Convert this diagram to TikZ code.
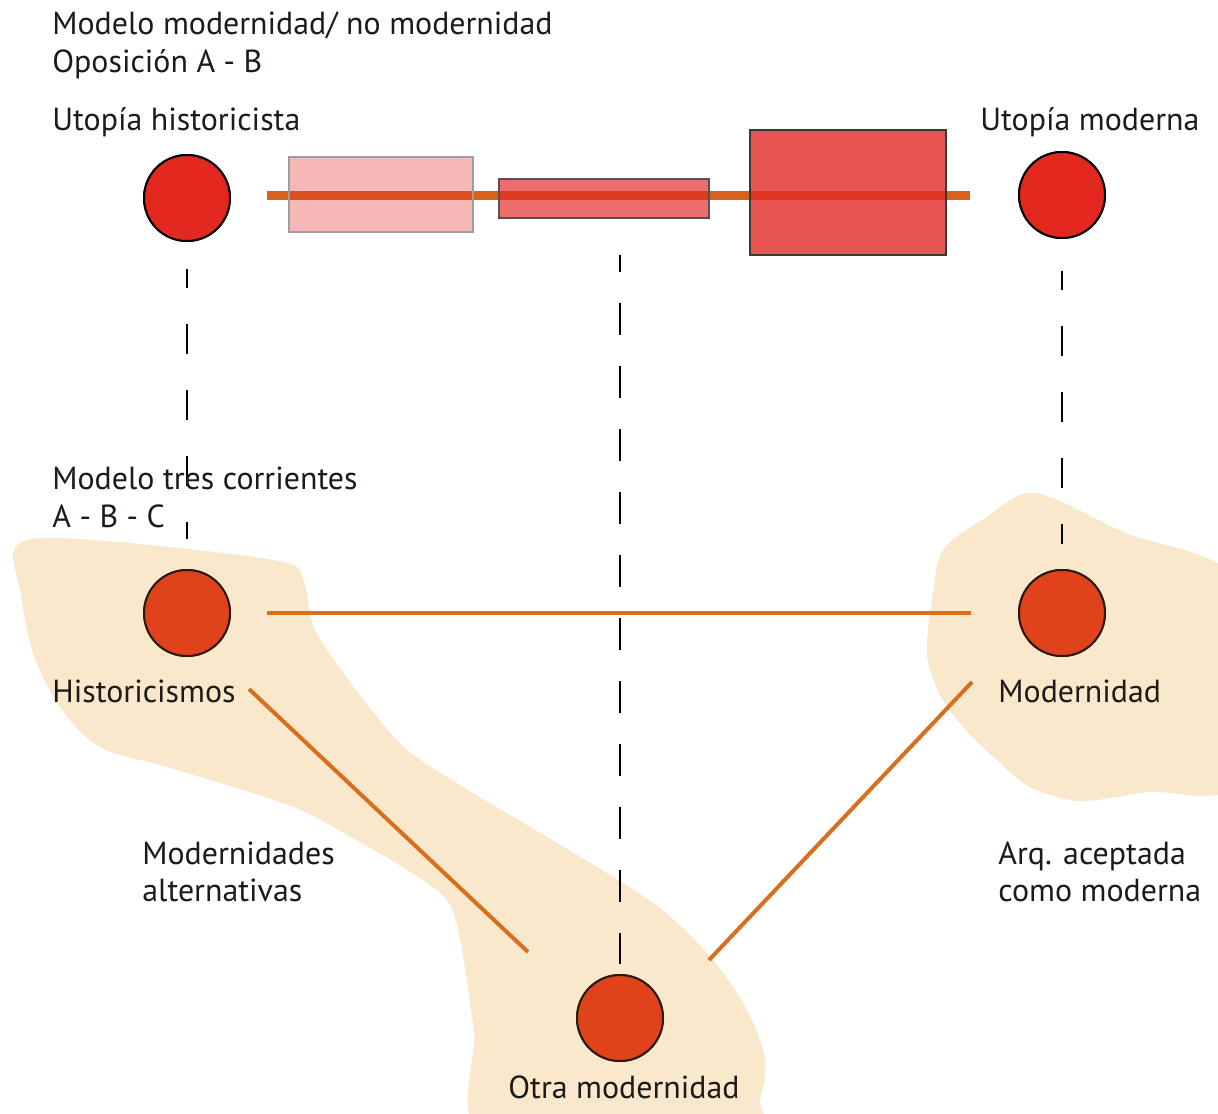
\documentclass[tikz,border=0pt]{standalone}
\usepackage{fontspec}
\setmainfont{PT Sans}
\definecolor{blobc}{HTML}{F9E8CB}
\definecolor{topred}{HTML}{E3281F}
\definecolor{botred}{HTML}{E0421B}
\definecolor{dotborder}{HTML}{2B1A12}
\definecolor{axisorange}{HTML}{D8611B}
\definecolor{connorange}{HTML}{D86F1E}
\definecolor{boxred}{HTML}{E22824}
\definecolor{txt}{HTML}{1E1A16}
\begin{document}
\begin{tikzpicture}[x=0.5pt,y=-0.5pt,
  blob/.style={fill=blobc},
  topdot/.style={circle, minimum size=43pt, inner sep=0pt, fill=topred, draw=black, line width=1pt},
  botdot/.style={circle, minimum size=43pt, inner sep=0pt, fill=botred, draw=dotborder, line width=1pt},
  conn/.style={draw=connorange, line width=2pt},
  axisline/.style={draw=axisorange, line width=4.5pt},
  vdash/.style={draw=black, line width=1.3pt, dash pattern=on 16pt off 15.5pt},
  sidedash/.style={draw=black, line width=1.3pt, dash pattern=on 15pt off 18pt},
  lbl/.style={anchor=base west, inner sep=0pt, text=txt, font=\fontsize{15.95pt}{19pt}\selectfont},
  boxa/.style={fill=boxred, fill opacity=0.33, draw=black!38, line width=1pt},
  boxb/.style={fill=boxred, fill opacity=0.67, draw=black!68, line width=1pt},
  boxc/.style={fill=boxred, fill opacity=0.79, draw=black!78, line width=1pt}]
\useasboundingbox (0,0) rectangle (1218,1113);
\clip (0,0) rectangle (1218,1113);
\fill[white] (0,0) rectangle (1218,1113);

% blobs
\fill[blob] plot[smooth cycle, tension=0.55] coordinates {
  (14,550) (45,538) (150,545) (283,562) (304,582) (313,625) (336,663)
  (370,708) (405,748) (455,782) (547,837) (613,877) (665,912) (713,960)
  (747,1010) (765,1060) (760,1100) (745,1140) (490,1140) (474,1030)
  (462,950) (450,905) (420,878) (335,828) (283,803) (167,767) (100,747)
  (60,707) (33,653) (20,590)};
\fill[blob] plot[smooth cycle, tension=0.5] coordinates {
  (1035,493) (1125,533) (1240,585) (1240,780) (1147,792)
  (1080,801) (1030,787) (997,760) (963,727) (940,695) (927,655)
  (932,600) (943,550) (985,518)};

% nodes
\node[topdot] (uh) at (187,198) {};
\node[topdot] (um) at (1062,195) {};
\node[botdot] (hi) at (187,613) {};
\node[botdot] (mo) at (1062,613) {};
\node[botdot] (om) at (620,1018) {};

% top axis
\draw[axisline, shorten <=18pt, shorten >=24pt] (uh.east |- um.center) -- (um.west);

% boxes
\draw[boxa] (289,157) rectangle (473,232);
\draw[boxb] (499,179) rectangle (709,218);
\draw[boxc] (750,130) rectangle (946,255);

% dashed verticals
\coordinate (midtop) at (620,255);
\draw[sidedash, dash phase=5.5pt, shorten <=13.5pt, shorten >=15pt] (uh.south) -- (hi.north);
\draw[sidedash, dash phase=5.5pt, shorten <=16pt, shorten >=12.5pt] (um.south) -- (mo.north);
\draw[vdash, dash phase=7.5pt, shorten >=5pt] (midtop) -- (om.north);

% connectors
\coordinate (dla) at (249,689);
\coordinate (dlb) at (528,952);
\coordinate (dra) at (972,682);
\coordinate (drb) at (709,960);
\draw[conn, shorten <=18pt, shorten >=23.5pt] (hi.east) -- (mo.west);
\draw[conn] (dla) -- (dlb);
\draw[conn] (dra) -- (drb);

% redraw circles on top
\node[topdot] at (uh) {};
\node[topdot] at (um) {};
\node[botdot] at (hi) {};
\node[botdot] at (mo) {};
\node[botdot] at (om) {};

% labels
\node[lbl] (t1) at (52,35) {Modelo modernidad/ no modernidad};
\node[lbl] (t2) at (52,73) {Oposición A - B};
\node[lbl] (t3) at (52,130) {Utopía historicista};
\node[lbl] (t4) at (980,130) {Utopía moderna};
\node[lbl] (t5) at (52,489) {Modelo tres corrientes};
\node[lbl] (t6) at (52,527) {A - B - C};
\node[lbl] (t7) at (52,702) {Historicismos};
\node[lbl] (t8) at (998,702) {Modernidad};
\node[lbl] (t9) at (142,864) {Modernidades};
\node[lbl] (t10) at (142,901) {alternativas};
\node[lbl] (t11) at (998,864) {Arq. aceptada};
\node[lbl] (t12) at (998,901) {como moderna};
\node[lbl] (t13) at (508,1098) {Otra modernidad};
\end{tikzpicture}
\end{document}
